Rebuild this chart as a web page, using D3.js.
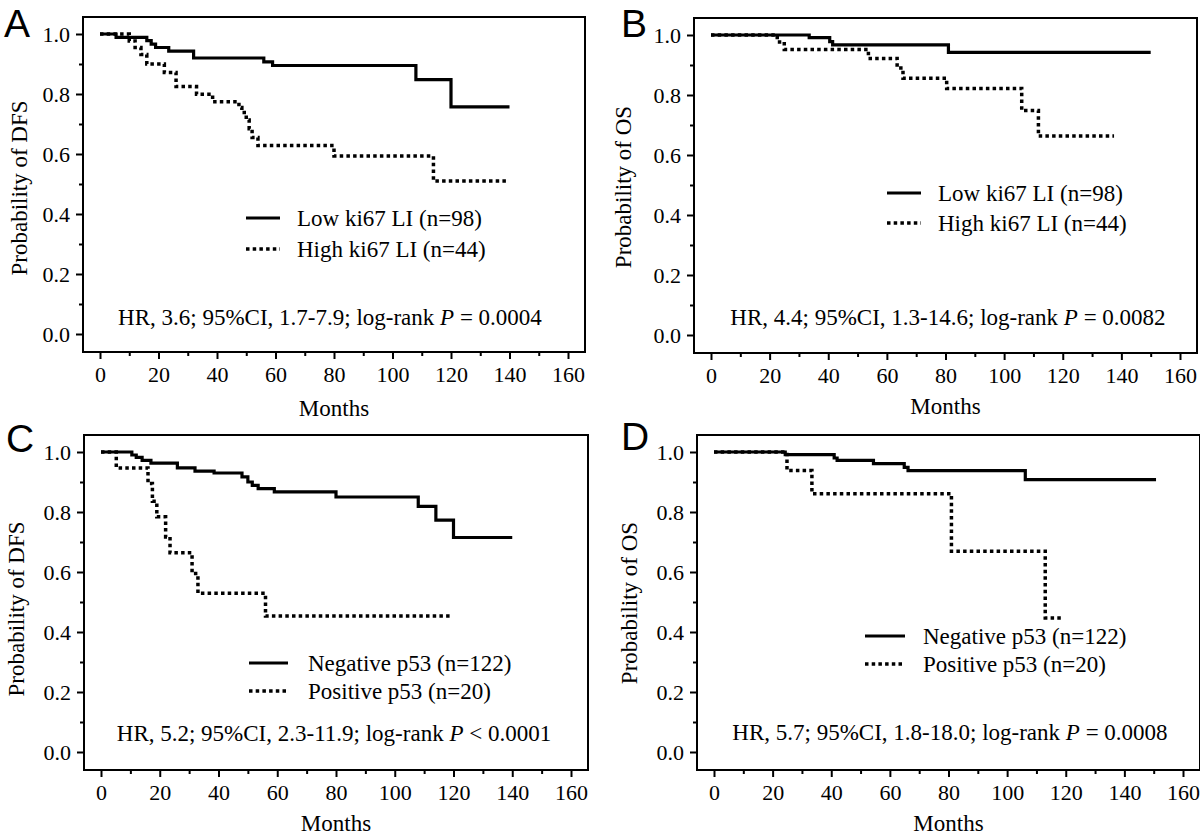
<!DOCTYPE html>
<html><head><meta charset="utf-8">
<script src="https://cdn.jsdelivr.net/npm/d3@7"></script>
<style>body{margin:0;background:#fff}svg{display:block}</style>
</head><body><svg id="c" width="1200" height="836"></svg>
<script>
// ---- tick labels / titles ----
const monthTicks = [0, 20, 40, 60, 80, 100, 120, 140, 160];
const monthMinor = [10, 30, 50, 70, 90, 110, 130, 150];
const probTicks = [0, 0.2, 0.4, 0.6, 0.8, 1.0];
const probMinor = [0.1, 0.3, 0.5, 0.7, 0.9];
const panelLetters = ["A", "B", "C", "D"];
const yTitles = ["Probability of DFS", "Probability of OS", "Probability of DFS", "Probability of OS"];
const xTitle = "Months";
const legendKi67 = ["Low ki67 LI (n=98)", "High ki67 LI (n=44)"];
const legendP53 = ["Negative p53 (n=122)", "Positive p53 (n=20)"];
const hrPrefix = ["HR, 3.6; 95%CI, 1.7-7.9; log-rank ", "HR, 4.4; 95%CI, 1.3-14.6; log-rank ",
                  "HR, 5.2; 95%CI, 2.3-11.9; log-rank ", "HR, 5.7; 95%CI, 1.8-18.0; log-rank "];
const hrSuffix = [" = 0.0004", " = 0.0082", " < 0.0001", " = 0.0008"];

// ---- Panel A: DFS by ki67 ----
const aLowTime  = [0, 5.5, 16, 17.5, 19, 23.5, 32, 56, 59, 108, 120, 140];
const aLowSurv  = [1, 0.989, 0.978, 0.966, 0.955, 0.943, 0.920, 0.907, 0.895, 0.848, 0.757, 0.757];
const aHighTime = [0, 10, 12, 14, 16, 22, 26, 33, 38.5, 47.5, 48.5, 50, 51, 52, 54, 80, 114, 139];
const aHighSurv = [1, 0.977, 0.955, 0.932, 0.90, 0.872, 0.825, 0.799, 0.774, 0.755, 0.738, 0.713, 0.684, 0.655, 0.628, 0.593, 0.51, 0.51];

// ---- Panel B: OS by ki67 ----
const bLowTime  = [0, 33.5, 40.5, 41.5, 81, 150];
const bLowSurv  = [1, 0.991, 0.978, 0.967, 0.942, 0.942];
const bHighTime = [0, 22.6, 25, 53.7, 63.5, 65.5, 80.4, 106, 111.7, 137.5];
const bHighSurv = [1, 0.977, 0.952, 0.922, 0.89, 0.856, 0.822, 0.748, 0.663, 0.663];

// ---- Panel C: DFS by p53 ----
const cNegTime = [0, 10.5, 12, 14, 17, 26, 32, 38.5, 48, 50, 51.5, 53.5, 59, 80, 108, 114, 120, 140];
const cNegSurv = [1, 0.99, 0.982, 0.972, 0.963, 0.947, 0.936, 0.93, 0.917, 0.90, 0.889, 0.878, 0.867, 0.85, 0.819, 0.773, 0.715, 0.715];
const cPosTime = [0, 5.2, 16, 17.5, 19, 22, 23.5, 31, 33, 56, 119];
const cPosSurv = [1, 0.947, 0.895, 0.836, 0.784, 0.717, 0.664, 0.595, 0.529, 0.453, 0.453];

// ---- Panel D: OS by p53 ----
const dNegTime = [0, 24.3, 41, 42, 54.4, 64.9, 66.2, 106.2, 150.8];
const dNegSurv = [1, 0.991, 0.98, 0.972, 0.961, 0.949, 0.938, 0.908, 0.908];
const dPosTime = [0, 24.9, 33.4, 81, 113, 118.7];
const dPosSurv = [1, 0.938, 0.861, 0.669, 0.447, 0.447];

// ---- layout (pixels) ----
const panels = [
  {xr: [100, 568], yr: [334, 34], letter: [4, 37], yTitle: [19, 188], xTitleY: 408,
   leg: {x1: 246, x2: 280, tx: 297, y1: 218, y2: 249}, hr: [330, 317],
   series: [[aLowTime, aLowSurv], [aHighTime, aHighSurv]], labels: legendKi67},
  {xr: [711, 1180], yr: [335, 35], letter: [621, 37], yTitle: [623, 187], xTitleY: 406,
   leg: {x1: 887, x2: 921, tx: 938, y1: 193, y2: 223}, hr: [948, 317],
   series: [[bLowTime, bLowSurv], [bHighTime, bHighSurv]], labels: legendKi67},
  {xr: [101, 571], yr: [752, 452], letter: [6, 452], yTitle: [16, 609], xTitleY: 823,
   leg: {x1: 249, x2: 288, tx: 308, y1: 663, y2: 691}, hr: [334, 733],
   series: [[cNegTime, cNegSurv], [cPosTime, cPosSurv]], labels: legendP53},
  {xr: [714, 1183], yr: [752, 452], letter: [621, 450], yTitle: [629, 603], xTitleY: 823,
   leg: {x1: 865, x2: 905, tx: 923, y1: 636, y2: 664}, hr: [950, 732],
   series: [[dNegTime, dNegSurv], [dPosTime, dPosSurv]], labels: legendP53}
];

const SERIF = "'Liberation Serif','Times New Roman',serif";
const SANS = "'Liberation Sans',Arial,sans-serif";
const DOT = "3.5,3.2";
const svg = d3.select("#c");
svg.append("rect").attr("width", 1200).attr("height", 836).attr("fill", "#fff");

panels.forEach((p, i) => {
  const x = d3.scaleLinear().domain([0, 160]).range(p.xr);
  const y = d3.scaleLinear().domain([0, 1]).range(p.yr);
  const bx0 = p.xr[0] - 17, bx1 = p.xr[1] + 17, by0 = p.yr[1] - 17, by1 = p.yr[0] + 18;
  const g = svg.append("g");

  // frame
  g.append("rect").attr("x", bx0).attr("y", by0).attr("width", bx1 - bx0).attr("height", by1 - by0)
    .attr("fill", "none").attr("stroke", "#000").attr("stroke-width", 2);

  // x axis
  const xa = g.append("g").attr("transform", `translate(0,${by1})`)
    .call(d3.axisBottom(x).tickValues(monthTicks).tickSize(7).tickPadding(7).tickFormat(d3.format("d")));
  const xm = g.append("g").attr("transform", `translate(0,${by1})`)
    .call(d3.axisBottom(x).tickValues(monthMinor).tickSize(4).tickFormat(""));
  // y axis
  const ya = g.append("g").attr("transform", `translate(${bx0},0)`)
    .call(d3.axisLeft(y).tickValues(probTicks).tickSize(7).tickPadding(6).tickFormat(d3.format(".1f")));
  const ym = g.append("g").attr("transform", `translate(${bx0},0)`)
    .call(d3.axisLeft(y).tickValues(probMinor).tickSize(4).tickFormat(""));
  [xa, xm, ya, ym].forEach(a => {
    a.select(".domain").remove();
    a.selectAll("line").attr("stroke", "#000").attr("stroke-width", 2);
    a.selectAll("text").attr("font-family", SERIF).attr("font-size", 22).attr("fill", "#000");
  });

  // curves
  const line = d3.line().x(d => x(d[0])).y(d => y(d[1])).curve(d3.curveStepAfter);
  p.series.forEach((s, k) => {
    const pts = s[0].map((t, j) => [t, s[1][j]]);
    g.append("path").attr("d", line(pts)).attr("fill", "none").attr("stroke", "#000")
      .attr("stroke-width", k === 1 ? 3.5 : 3.2)
      .attr("stroke-dasharray", k === 1 ? DOT : null);
  });

  // legend
  [p.leg.y1, p.leg.y2].forEach((ly, k) => {
    g.append("line").attr("x1", p.leg.x1).attr("x2", p.leg.x2).attr("y1", ly).attr("y2", ly)
      .attr("stroke", "#000").attr("stroke-width", k === 1 ? 3.5 : 3.2)
      .attr("stroke-dasharray", k === 1 ? DOT : null);
    g.append("text").attr("x", p.leg.tx).attr("y", ly).attr("dy", "0.35em")
      .attr("font-family", SERIF).attr("font-size", 23).text(p.labels[k]);
  });

  // HR annotation
  const t = g.append("text").attr("x", p.hr[0]).attr("y", p.hr[1]).attr("dy", "0.35em")
    .attr("text-anchor", "middle").attr("font-family", SERIF).attr("font-size", 23);
  t.append("tspan").text(hrPrefix[i]);
  t.append("tspan").attr("font-style", "italic").text("P");
  t.append("tspan").text(hrSuffix[i]);

  // axis titles
  g.append("text").attr("x", (p.xr[0] + p.xr[1]) / 2).attr("y", p.xTitleY).attr("dy", "0.35em")
    .attr("text-anchor", "middle").attr("font-family", SERIF).attr("font-size", 23).text(xTitle);
  g.append("text").attr("transform", `translate(${p.yTitle[0]},${p.yTitle[1]}) rotate(-90)`)
    .attr("dy", "0.35em").attr("text-anchor", "middle").attr("font-family", SERIF)
    .attr("font-size", 23).text(yTitles[i]);

  // panel letter
  g.append("text").attr("x", p.letter[0]).attr("y", p.letter[1]).attr("font-family", SANS)
    .attr("font-size", 39).text(panelLetters[i]);
});
</script></body></html>
